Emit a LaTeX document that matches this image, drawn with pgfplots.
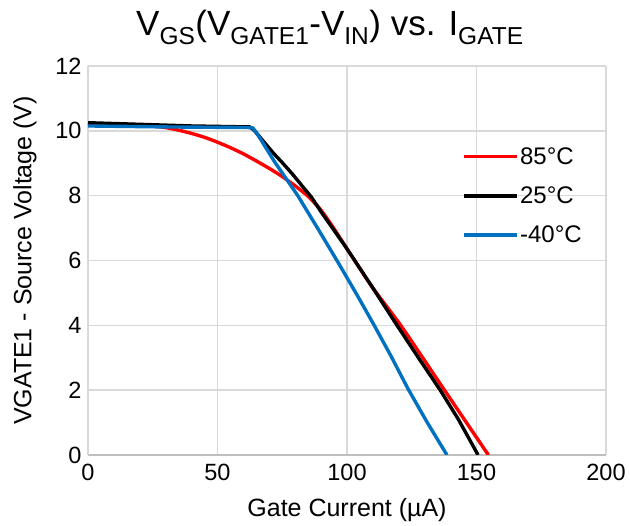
\documentclass[border=0pt]{standalone}
\usepackage{fontspec}
\setmainfont{Liberation Sans}
\usepackage{pgfplots}
\pgfplotsset{compat=1.18}
\definecolor{gridgray}{HTML}{D9D9D9}
\definecolor{axgray}{HTML}{BFBFBF}
\definecolor{cblue}{HTML}{0070C0}

\begin{document}
\begin{tikzpicture}
\begin{axis}[
    scale only axis,
    width=518pt, height=389pt,
    xmin=0, xmax=200, ymin=0, ymax=12,
    xtick={0,50,...,200}, ytick={0,2,...,12},
    hide obscured x ticks=false, hide obscured y ticks=false,
    grid=major, major grid style={gridgray, line width=1.4pt},
    axis x line=bottom, axis y line=left,
    x axis line style={axgray, line width=1.4pt, -},
    y axis line style={gridgray, line width=1.4pt, -},
    major tick length=0pt,
    /pgf/number format/assume math mode=true,
    tick label style={font=\fontsize{23.5}{26}\selectfont},
    xticklabel style={yshift=-6pt},
    yticklabel style={xshift=-3pt},
    xlabel={Gate Current (µA)},
    ylabel={VGATE1 - Source Voltage (V)},
    label style={font=\fontsize{25}{28}\selectfont},
    xlabel style={at={(axis description cs:0.5,-0.1414)}, anchor=center},
    ylabel style={at={(axis description cs:-0.1216,0.5)}, anchor=center},
    title={V\textsubscript{GS}(V\textsubscript{GATE1}-V\textsubscript{IN}) vs. I\textsubscript{GATE}},
    title style={font=\fontsize{35}{38}\selectfont, at={(axis description cs:0.467,1)},
        anchor=base, yshift=24pt},
    legend style={draw=none, fill=none, at={(axis description cs:0.722,0.795)},
        anchor=north west, font=\fontsize{24}{26}\selectfont, row sep=18pt,
        inner sep=0pt, nodes={inner sep=1.5pt}},
    legend cell align=left,
    legend image code/.code={\draw[#1, line width=3.4pt] (0pt,0pt) -- (53pt,0pt);},
]
\addplot[red, line width=3.4pt, smooth, tension=0.4] coordinates {
(0,10.22) (10,10.21) (20,10.18) (25,10.15) (30,10.1) (35,10.02) (40,9.92)
(45,9.8) (50,9.65) (55,9.48) (60,9.29) (65,9.07) (70,8.84) (75,8.59) (80,8.3)
(85,7.98) (90,7.55) (95,6.98) (100,6.36) (110,5.15) (121,3.97) (137.8,1.98)
(154.6,0)};
\addlegendentry{85°C}
\addplot[black, line width=3.4pt, line join=round] coordinates {
(0,10.25) (20,10.2) (40,10.15) (62.5,10.12) (64,10.03) (68,9.65) (71.6,9.31)
(75,9.02) (79,8.66) (83,8.27) (86.3,7.95) (90,7.5) (95,6.93) (100,6.36)
(110,5.15) (119.3,4.0) (128,2.95) (136,2.0) (143,1.1) (150.6,0)};
\addlegendentry{25°C}
\addplot[cblue, line width=3.4pt, line join=round] coordinates {
(0,10.15) (30,10.12) (63.5,10.1) (65,9.95) (72,9.05) (81,8.0) (89,6.95)
(97,5.88) (104,4.92) (110.5,4.0) (117,3.05) (123.5,2.05) (131,1.0) (138.6,0)};
\addlegendentry{-40°C}
\end{axis}
\path (-88pt,-71pt) rectangle (542pt,455pt);
\end{tikzpicture}
\end{document}
